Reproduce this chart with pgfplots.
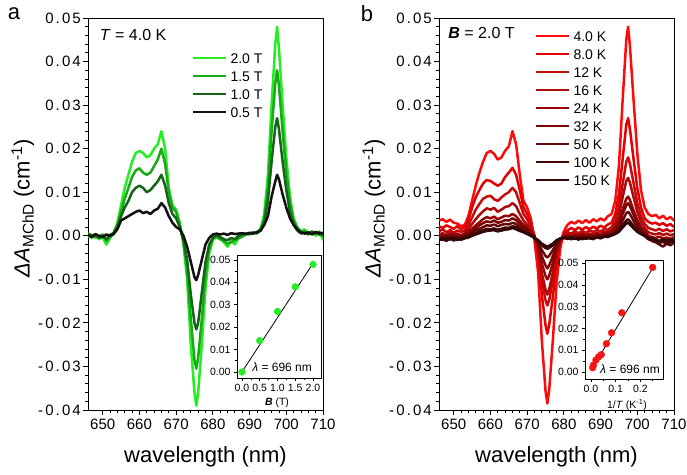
\documentclass[border=0pt]{standalone}
\usepackage{fontspec}
\setmainfont{Liberation Sans}
\usepackage{pgfplots}
\pgfplotsset{compat=1.18}
\usepackage{pgfplotstable}

\definecolor{gA}{RGB}{34,238,34}
\definecolor{gB}{RGB}{24,170,24}
\definecolor{gC}{RGB}{22,100,22}
\definecolor{gD}{RGB}{17,17,17}
\definecolor{rA}{RGB}{255,10,10}
\definecolor{rB}{RGB}{228,0,0}
\definecolor{rC}{RGB}{200,10,10}
\definecolor{rD}{RGB}{175,10,10}
\definecolor{rE}{RGB}{150,5,5}
\definecolor{rF}{RGB}{125,5,5}
\definecolor{rG}{RGB}{100,10,10}
\definecolor{rH}{RGB}{72,5,5}
\definecolor{rI}{RGB}{48,8,8}
\definecolor{dotG}{RGB}{40,235,40}
\definecolor{dotR}{RGB}{245,20,20}

% values in units of 0.001 cm^-1
\pgfplotstableread{
x g20 g15 g10 g05
646 0.0 0.5 0.3 0.2
647 -0.5 0.2 -0.3 -0.2
648 0.3 -0.4 0.2 0.4
649 -0.8 -0.2 -0.5 0.0
650 -0.3 0.3 0.0 -0.3
651 -2.0 -1.2 -0.8 0.3
652 -0.5 -0.3 0.2 0.0
653 0.5 0.8 0.6 0.4
654 3.0 2.5 2.0 1.5
655 7.0 5.5 4.5 3.5
656 11.0 8.5 6.5 4.0
657 14.0 11.0 8.0 4.5
658 17.0 13.5 10.0 5.0
659 19.0 15.0 11.0 5.5
660 19.5 15.5 11.5 5.8
661 19.0 14.5 11.0 5.2
662 18.0 14.0 10.0 5.5
663 18.5 14.5 10.5 5.0
664 20.0 16.0 11.5 5.8
665 21.0 17.5 12.5 6.2
666 24.0 20.0 14.0 7.5
667 20.0 16.5 11.5 6.5
668 11.0 10.0 7.5 4.5
669 7.0 6.5 5.0 3.0
670 6.0 5.5 4.0 2.0
671 3.0 2.5 2.0 1.5
672 -2.0 -1.5 -1.0 0.0
673 -10.0 -8.0 -5.5 -2.5
674 -25.0 -19.0 -13.5 -6.0
675 -36.0 -28.5 -20.0 -9.5
675.5 -39.0 -30.5 -21.5 -10.2
676 -36.0 -28.0 -20.0 -9.0
677 -25.0 -19.0 -13.0 -5.5
678 -12.0 -9.0 -6.0 -2.0
679 -4.0 -3.0 -2.0 -0.5
680 -1.0 -0.5 -0.5 0.3
681 0.0 -0.3 0.2 0.5
682 -0.5 -0.8 -0.3 0.3
683 -1.5 -1.2 -0.8 0.5
684 -2.5 -1.8 -1.0 0.2
685 -1.0 -1.5 -0.5 0.6
686 -2.0 -1.0 -0.8 0.4
687 -0.5 -0.6 0.0 0.5
688 0.0 -0.2 0.3 0.6
689 0.5 0.3 0.5 0.4
690 0.3 0.5 0.4 0.7
691 0.8 0.6 0.8 0.5
692 0.5 0.9 0.6 0.8
693 1.5 1.5 1.2 1.2
694 5.0 4.0 3.0 2.5
695 14.0 11.0 8.0 4.5
696 30.0 24.0 17.0 9.0
697 44.0 35.0 25.0 12.5
697.5 48.0 38.0 27.0 14.0
698 43.0 34.5 24.5 13.0
699 30.0 24.0 17.0 9.5
700 18.0 14.5 10.5 6.5
701 9.0 7.5 5.5 4.0
702 4.0 3.5 2.5 2.5
703 2.0 1.8 1.2 1.5
704 1.0 0.8 0.5 0.8
705 1.5 1.0 0.8 0.5
706 0.5 0.8 0.3 0.8
707 1.0 0.5 1.0 0.3
708 0.0 0.8 0.5 0.9
709 1.0 0.2 0.8 0.5
710 -1.0 0.5 0.0 0.7
}\tabA

\pgfplotstableread{
x r4 r8 r12 r16 r24 r32 r50 r100 r150
646 3.5 2.2 1.0 0.3 -0.3 0.0 -0.8 -0.5 -1.0
647 3.8 1.8 1.5 0.6 0.2 -0.5 -0.3 -1.0 -0.6
648 3.2 2.4 0.8 0.0 -0.4 0.3 -0.9 -0.4 -1.2
649 3.7 2.0 1.3 0.7 0.4 -0.2 -0.2 -0.9 -0.5
650 3.0 1.6 0.7 0.2 -0.2 0.2 -0.7 -0.3 -1.1
651 2.8 2.2 1.2 0.5 0.3 -0.4 -0.4 -1.0 -0.7
652 2.2 1.5 0.9 0.1 -0.1 0.1 -0.6 -0.5 -0.9
653 2.5 2.0 1.2 0.6 0.3 0.2 -0.2 -0.4 -0.6
654 4.5 3.5 2.4 1.5 0.9 0.5 0.2 -0.1 -0.4
655 8.0 6.5 4.2 2.7 1.6 1.2 0.6 0.3 0.0
656 11.5 8.8 6.0 3.8 2.4 1.7 1.2 0.6 0.3
657 14.5 10.5 7.3 4.8 3.1 2.4 1.6 1.0 0.6
658 17.0 12.0 8.5 5.6 3.8 2.9 2.0 1.3 0.9
659 19.0 12.8 9.0 6.3 4.3 3.3 2.4 1.6 1.1
660 19.5 12.6 9.2 6.0 4.0 3.1 2.3 1.5 1.2
661 18.8 12.0 8.4 6.4 4.4 3.5 2.6 1.7 1.3
662 17.5 11.5 8.0 5.5 3.8 3.0 2.2 1.4 1.0
663 18.0 12.0 8.8 6.0 4.2 3.2 2.5 1.6 1.2
664 19.5 13.5 9.5 6.6 4.6 3.6 2.7 1.9 1.4
665 20.5 14.5 10.0 6.8 4.5 3.5 2.6 1.8 1.5
666 24.0 15.6 11.0 7.5 5.0 4.0 3.0 2.2 1.8
667 21.0 14.0 10.0 6.8 4.5 3.6 2.7 2.0 1.5
668 14.0 10.5 7.5 5.0 3.4 2.7 2.0 1.4 1.1
669 8.0 6.5 5.0 3.5 2.5 2.0 1.5 1.0 0.8
670 6.5 5.0 3.8 2.5 1.8 1.4 1.0 0.6 0.4
671 4.0 3.0 2.0 1.2 0.8 0.6 0.3 0.1 0.0
672 -1.0 0.0 0.0 -0.2 -0.3 -0.2 -0.4 -0.5 -0.5
673 -8.5 -4.5 -3.5 -3.0 -2.3 -1.8 -1.5 -1.2 -1.0
674 -24.0 -13.5 -10.0 -8.5 -6.3 -4.7 -3.3 -2.2 -1.8
675 -35.5 -20.5 -14.8 -12.3 -9.2 -6.8 -4.6 -2.8 -2.3
675.5 -38.5 -22.5 -16.0 -13.5 -10.0 -7.5 -5.0 -3.0 -2.5
676 -35.5 -20.5 -14.8 -12.3 -9.2 -6.8 -4.6 -2.8 -2.3
677 -24.0 -14.0 -10.3 -8.5 -6.3 -4.7 -3.3 -2.2 -1.8
678 -11.0 -6.5 -4.5 -4.0 -3.0 -2.3 -1.8 -1.3 -1.0
679 -3.0 -1.5 -1.2 -1.2 -1.0 -0.8 -0.8 -0.7 -0.6
680 1.0 0.8 0.3 0.0 -0.2 -0.3 -0.5 -0.4 -0.5
681 2.5 1.2 0.8 0.4 0.2 -0.1 -0.6 -0.4 -0.7
682 3.2 1.8 0.5 0.0 -0.3 -0.4 -0.3 -0.8 -0.4
683 2.8 1.3 1.0 0.5 0.1 0.0 -0.7 -0.5 -0.6
684 3.5 1.9 0.6 0.1 -0.2 -0.3 -0.4 -0.9 -0.5
685 2.9 1.4 1.1 0.6 0.3 0.1 -0.6 -0.4 -0.8
686 3.6 2.0 0.7 0.2 -0.1 -0.3 -0.3 -0.7 -0.4
687 3.0 1.5 1.2 0.5 0.2 0.0 -0.5 -0.5 -0.6
688 3.8 2.1 0.9 0.3 0.0 -0.2 -0.2 -0.8 -0.5
689 3.3 1.7 1.3 0.7 0.4 0.2 -0.4 -0.3 -0.4
690 4.0 2.3 1.0 0.4 0.1 -0.1 -0.1 -0.6 -0.3
691 3.5 1.9 1.5 0.9 0.5 0.3 -0.2 -0.2 -0.2
692 4.5 2.6 1.4 0.8 0.4 0.2 0.0 -0.3 -0.1
693 5.0 3.0 2.0 1.3 0.8 0.6 0.3 0.1 0.1
694 8.0 5.0 3.5 2.5 1.8 1.3 0.9 0.5 0.4
695 16.0 9.5 6.5 4.8 3.2 2.6 1.8 1.2 0.9
696 31.0 17.5 11.8 8.8 6.0 5.0 3.5 2.4 1.9
697 45.0 25.5 17.0 12.6 8.5 7.0 5.2 3.5 2.8
697.5 48.0 27.0 18.0 13.3 9.0 7.5 5.5 3.8 3.0
698 43.5 24.5 16.5 12.2 8.2 6.8 5.0 3.3 2.6
699 31.0 17.5 12.0 8.8 5.8 4.8 3.4 2.2 1.7
700 19.0 11.0 7.5 5.5 3.6 2.8 1.9 1.2 0.9
701 10.5 6.5 4.5 3.2 2.0 1.5 0.9 0.5 0.4
702 6.5 4.0 2.8 1.8 1.0 0.6 0.2 0.0 0.0
703 5.0 3.2 1.8 0.8 0.0 -0.4 -0.6 -0.8 -0.5
704 4.5 2.8 1.5 0.5 -0.3 -0.8 -1.2 -1.0 -0.7
705 4.8 3.0 1.2 0.3 -0.5 -1.0 -1.5 -1.3 -0.9
706 4.0 2.5 1.6 0.6 -0.2 -1.2 -2.0 -1.6 -1.2
707 4.6 2.9 1.1 0.2 -0.6 -0.9 -2.5 -1.4 -0.8
708 3.8 2.3 1.5 0.5 -0.4 -1.3 -1.8 -1.8 -1.1
709 4.3 2.7 1.0 0.1 -0.7 -1.0 -2.2 -1.5 -0.9
710 3.5 2.0 1.3 0.4 -0.3 -1.4 -1.6 -1.2 -1.0
}\tabB

\pgfplotsset{
  mainax/.style={
    scale only axis, width=235pt, height=392pt,
    xmin=646, xmax=710, ymin=-40, ymax=50,
    xtick={650,660,...,710},
    ytick={-40,-30,...,50},
    yticklabels={-0.04,-0.03,-0.02,-0.01,0.00,0.01,0.02,0.03,0.04,0.05},
    minor x tick num=4, minor y tick num=4,
    tick align=outside, tick pos=left,
    major tick length=5pt, minor tick length=3pt,
    axis line style={line width=1pt},
    every tick/.append style={black, line width=0.8pt},
    /pgf/number format/assume math mode=true,
    xticklabel style={font=\fontsize{15}{18}\selectfont},
    yticklabel style={font=\fontsize{15}{18}\selectfont\addfontfeature{LetterSpace=14}, inner sep=2pt},
    xlabel={wavelength (nm)},
    ylabel={{\itshape ΔA}\textsubscript{MChD} (cm\textsuperscript{-1})},
    label style={font=\fontsize{22}{26}\selectfont},
    xlabel style={at={(axis description cs:0.5,-0.12)}, anchor=center},
    ylabel style={at={(axis description cs:-0.277,0.515)}, anchor=center},
    legend cell align=left,
    legend image code/.code={\draw[##1, line width=2.5pt] (0pt,0pt) -- (33pt,0pt);},
    every axis plot/.append style={line width=2.5pt, line join=round},
  },
  inset/.style={
    scale only axis,
    axis background/.style={fill=white},
    tick align=outside, tick pos=left,
    major tick length=3pt, minor tick length=1.8pt,
    axis line style={line width=0.7pt},
    every tick/.append style={black, line width=0.6pt},
    /pgf/number format/assume math mode=true,
    tick label style={font=\fontsize{10.5}{12}\selectfont},
    label style={font=\fontsize{10.5}{12}\selectfont},
    ytick={0,10,...,50},
    yticklabels={0.00,0.01,0.02,0.03,0.04,0.05},
    minor x tick num=1, minor y tick num=1,
  },
}

\begin{document}
\begin{tikzpicture}[x=1pt,y=1pt]
\path[use as bounding box] (0,0) rectangle (687,474);

\node[font=\fontsize{22}{26}\selectfont] at (14,460) {a};
\node[font=\fontsize{22}{26}\selectfont] at (367,460) {b};

% ---------------- panel a ----------------
\begin{axis}[mainax, at={(88pt,64pt)}, anchor=south west,
  legend style={at={(axis description cs:0.4426,0.913)}, anchor=north west,
    draw=none, fill=none, inner sep=0pt, outer sep=0pt,
    row sep=6pt, column sep=2pt,
    font=\fontsize{14}{14}\selectfont,
    nodes={inner sep=1pt, text height=10pt, text depth=0pt}}]
\addplot[gA] table[x=x, y=g20] {\tabA};
\addplot[gB] table[x=x, y=g15] {\tabA};
\addplot[gC] table[x=x, y=g10] {\tabA};
\addplot[gD] table[x=x, y=g05] {\tabA};
\legend{2.0 T, 1.5 T, 1.0 T, 0.5 T}
\node[anchor=west, font=\fontsize{16}{18}\selectfont] at (axis description cs:0.036,0.957) {\textit{T} = 4.0 K};
\end{axis}

\begin{axis}[inset, at={(237pt,96pt)}, anchor=south west, width=84pt, height=123pt,
  xmin=-0.14, xmax=2.225, ymin=-2.7, ymax=52.2,
  xtick={0,0.5,1,1.5,2}, xticklabels={0.0,0.5,1.0,1.5,2.0},
  xlabel={\textbf{\textit{B}} (T)},
  xlabel style={at={(axis description cs:0.476,-0.2)}, anchor=center}]
\addplot[black, line width=0.8pt] coordinates {(0,0) (2.0,48.5)};
\addplot[only marks, mark=*, mark size=3.4pt, dotG, mark options={draw=dotG, fill=dotG}] coordinates {(0,0) (0.5,14) (1.0,27) (1.5,38) (2.0,48)};
\node[anchor=west, font=\fontsize{12}{14}\selectfont] at (axis description cs:0.14,0.089) {\textit{λ} = 696 nm};
\end{axis}

% ---------------- panel b ----------------
\begin{axis}[mainax, at={(439pt,64pt)}, anchor=south west,
  legend style={at={(axis description cs:0.4085,0.969)}, anchor=north west,
    draw=none, fill=none, inner sep=0pt, outer sep=0pt,
    row sep=6pt, column sep=2pt,
    font=\fontsize{14}{14}\selectfont,
    nodes={inner sep=1pt, text height=10pt, text depth=0pt}}]
\addplot[rA] table[x=x, y=r4] {\tabB};
\addplot[rB] table[x=x, y=r8] {\tabB};
\addplot[rC] table[x=x, y=r12] {\tabB};
\addplot[rD] table[x=x, y=r16] {\tabB};
\addplot[rE] table[x=x, y=r24] {\tabB};
\addplot[rF] table[x=x, y=r32] {\tabB};
\addplot[rG] table[x=x, y=r50] {\tabB};
\addplot[rH] table[x=x, y=r100] {\tabB};
\addplot[rI] table[x=x, y=r150] {\tabB};
\legend{4.0 K, 8.0 K, 12 K, 16 K, 24 K, 32 K, 50 K, 100 K, 150 K}
\node[anchor=west, font=\fontsize{16}{18}\selectfont] at (axis description cs:0.025,0.962) {\textbf{\textit{B}} = 2.0 T};
\end{axis}

\begin{axis}[inset, at={(585pt,95pt)}, anchor=south west, width=78pt, height=119pt,
  xmin=-0.0243, xmax=0.2919, ymin=-3.2, ymax=51.4,
  xtick={0,0.1,0.2,0.3}, xticklabels={0.0,0.1,0.2,0.3},
  xlabel={1/\textit{T} (K\textsuperscript{-1})},
  xlabel style={at={(axis description cs:0.538,-0.215)}, anchor=center}]
\addplot[black, line width=0.8pt] coordinates {(0.006,2.0) (0.252,48.0)};
\addplot[only marks, mark=*, mark size=3.4pt, dotR, mark options={draw=dotR, fill=dotR}] coordinates {(0.25,48) (0.125,27.2) (0.0833,18) (0.0625,13) (0.0417,8) (0.03125,7) (0.02,5.5) (0.01,3.2) (0.0067,2.0)};
\node[anchor=west, font=\fontsize{12}{14}\selectfont] at (axis description cs:0.15,0.084) {\textit{λ} = 696 nm};
\end{axis}
\end{tikzpicture}
\end{document}
